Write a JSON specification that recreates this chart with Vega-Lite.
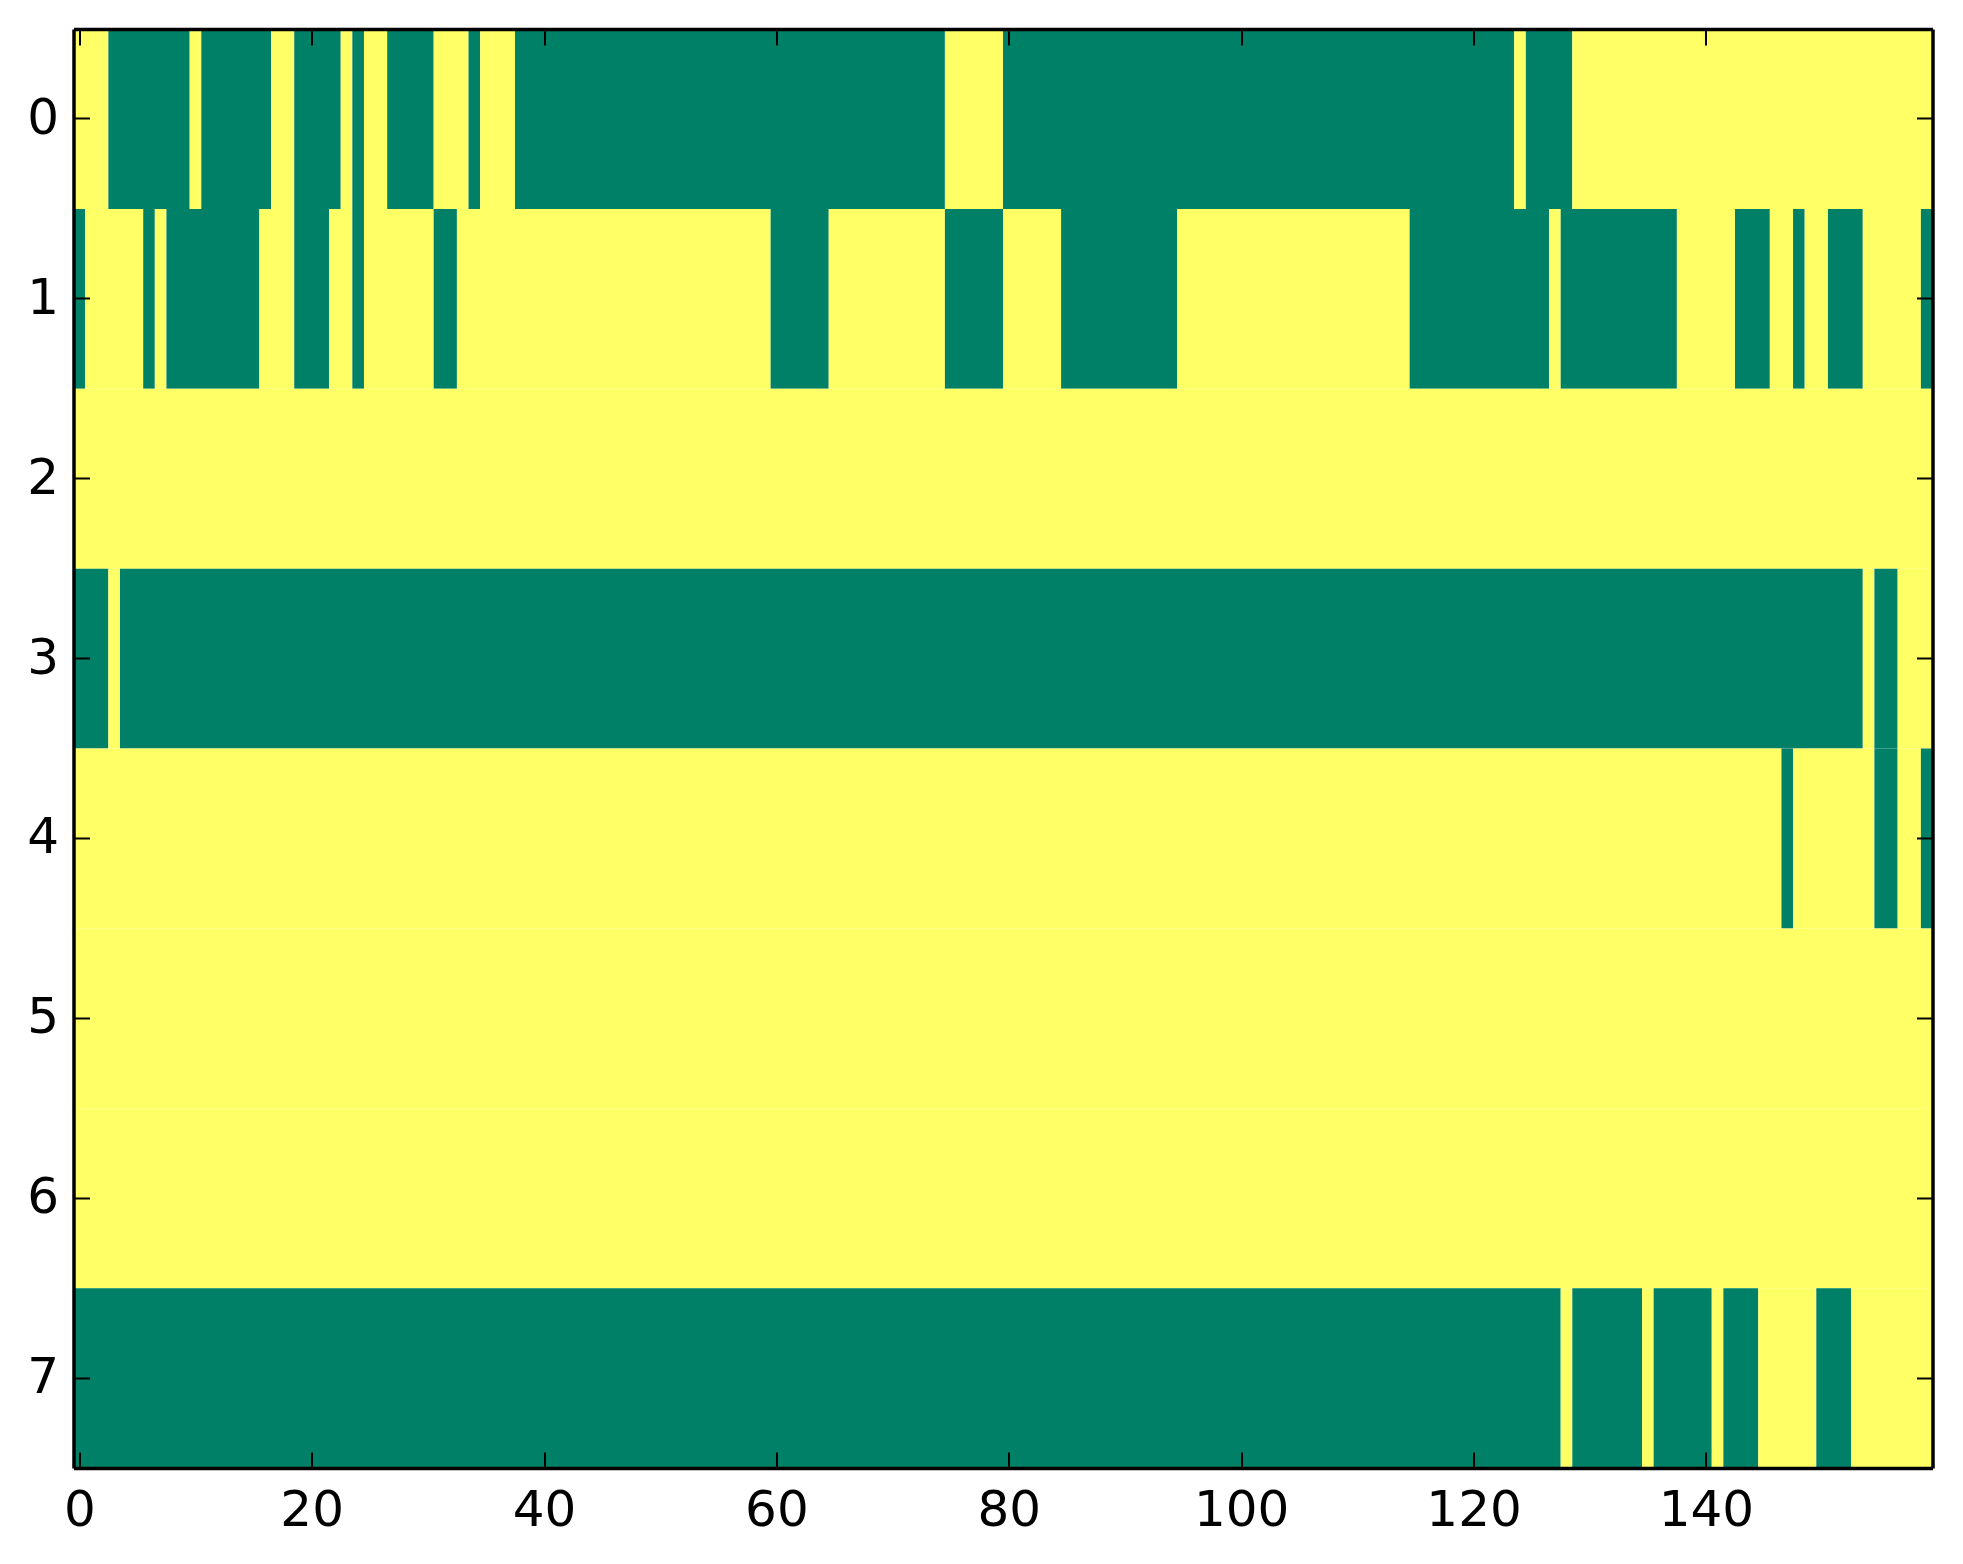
{
  "$schema": "https://vega.github.io/schema/vega-lite/v6.json",
  "autosize": "none",
  "padding": {"left": 73.5, "top": 29, "right": 30.5, "bottom": 96},
  "width": 1859,
  "height": 1439,
  "background": "white",
  "config": {
    "view": {"stroke": null},
    "axis": {
      "labelFont": "DejaVu Sans",
      "labelFontSize": 50,
      "labelColor": "black",
      "tickColor": "black",
      "tickWidth": 2,
      "tickSize": -16,
      "domainColor": "black",
      "domainWidth": 3.5,
      "grid": false,
      "title": null
    }
  },
  "data": {
    "values": [
      {"r": 0, "a": -0.5, "b": 2.5, "v": 1},
      {"r": 0, "a": 2.5, "b": 9.5, "v": 0},
      {"r": 0, "a": 9.5, "b": 10.5, "v": 1},
      {"r": 0, "a": 10.5, "b": 16.5, "v": 0},
      {"r": 0, "a": 16.5, "b": 18.5, "v": 1},
      {"r": 0, "a": 18.5, "b": 22.5, "v": 0},
      {"r": 0, "a": 22.5, "b": 23.5, "v": 1},
      {"r": 0, "a": 23.5, "b": 24.5, "v": 0},
      {"r": 0, "a": 24.5, "b": 26.5, "v": 1},
      {"r": 0, "a": 26.5, "b": 30.5, "v": 0},
      {"r": 0, "a": 30.5, "b": 33.5, "v": 1},
      {"r": 0, "a": 33.5, "b": 34.5, "v": 0},
      {"r": 0, "a": 34.5, "b": 37.5, "v": 1},
      {"r": 0, "a": 37.5, "b": 74.5, "v": 0},
      {"r": 0, "a": 74.5, "b": 79.5, "v": 1},
      {"r": 0, "a": 79.5, "b": 123.5, "v": 0},
      {"r": 0, "a": 123.5, "b": 124.5, "v": 1},
      {"r": 0, "a": 124.5, "b": 128.5, "v": 0},
      {"r": 0, "a": 128.5, "b": 159.5, "v": 1},

      {"r": 1, "a": -0.5, "b": 0.5, "v": 0},
      {"r": 1, "a": 0.5, "b": 5.5, "v": 1},
      {"r": 1, "a": 5.5, "b": 6.5, "v": 0},
      {"r": 1, "a": 6.5, "b": 7.5, "v": 1},
      {"r": 1, "a": 7.5, "b": 15.5, "v": 0},
      {"r": 1, "a": 15.5, "b": 18.5, "v": 1},
      {"r": 1, "a": 18.5, "b": 21.5, "v": 0},
      {"r": 1, "a": 21.5, "b": 23.5, "v": 1},
      {"r": 1, "a": 23.5, "b": 24.5, "v": 0},
      {"r": 1, "a": 24.5, "b": 30.5, "v": 1},
      {"r": 1, "a": 30.5, "b": 32.5, "v": 0},
      {"r": 1, "a": 32.5, "b": 59.5, "v": 1},
      {"r": 1, "a": 59.5, "b": 64.5, "v": 0},
      {"r": 1, "a": 64.5, "b": 74.5, "v": 1},
      {"r": 1, "a": 74.5, "b": 79.5, "v": 0},
      {"r": 1, "a": 79.5, "b": 84.5, "v": 1},
      {"r": 1, "a": 84.5, "b": 94.5, "v": 0},
      {"r": 1, "a": 94.5, "b": 114.5, "v": 1},
      {"r": 1, "a": 114.5, "b": 126.5, "v": 0},
      {"r": 1, "a": 126.5, "b": 127.5, "v": 1},
      {"r": 1, "a": 127.5, "b": 137.5, "v": 0},
      {"r": 1, "a": 137.5, "b": 142.5, "v": 1},
      {"r": 1, "a": 142.5, "b": 145.5, "v": 0},
      {"r": 1, "a": 145.5, "b": 147.5, "v": 1},
      {"r": 1, "a": 147.5, "b": 148.5, "v": 0},
      {"r": 1, "a": 148.5, "b": 150.5, "v": 1},
      {"r": 1, "a": 150.5, "b": 153.5, "v": 0},
      {"r": 1, "a": 153.5, "b": 158.5, "v": 1},
      {"r": 1, "a": 158.5, "b": 159.5, "v": 0},

      {"r": 2, "a": -0.5, "b": 159.5, "v": 1},

      {"r": 3, "a": -0.5, "b": 2.5, "v": 0},
      {"r": 3, "a": 2.5, "b": 3.5, "v": 1},
      {"r": 3, "a": 3.5, "b": 153.5, "v": 0},
      {"r": 3, "a": 153.5, "b": 154.5, "v": 1},
      {"r": 3, "a": 154.5, "b": 156.5, "v": 0},
      {"r": 3, "a": 156.5, "b": 159.5, "v": 1},

      {"r": 4, "a": -0.5, "b": 146.5, "v": 1},
      {"r": 4, "a": 146.5, "b": 147.5, "v": 0},
      {"r": 4, "a": 147.5, "b": 154.5, "v": 1},
      {"r": 4, "a": 154.5, "b": 156.5, "v": 0},
      {"r": 4, "a": 156.5, "b": 158.5, "v": 1},
      {"r": 4, "a": 158.5, "b": 159.5, "v": 0},

      {"r": 5, "a": -0.5, "b": 159.5, "v": 1},
      {"r": 6, "a": -0.5, "b": 159.5, "v": 1},

      {"r": 7, "a": -0.5, "b": 127.5, "v": 0},
      {"r": 7, "a": 127.5, "b": 128.5, "v": 1},
      {"r": 7, "a": 128.5, "b": 134.5, "v": 0},
      {"r": 7, "a": 134.5, "b": 135.5, "v": 1},
      {"r": 7, "a": 135.5, "b": 140.5, "v": 0},
      {"r": 7, "a": 140.5, "b": 141.5, "v": 1},
      {"r": 7, "a": 141.5, "b": 144.5, "v": 0},
      {"r": 7, "a": 144.5, "b": 149.5, "v": 1},
      {"r": 7, "a": 149.5, "b": 152.5, "v": 0},
      {"r": 7, "a": 152.5, "b": 159.5, "v": 1}
    ]
  },
  "layer": [
    {
      "mark": {"type": "rect", "strokeWidth": 0},
      "encoding": {
        "x": {
          "field": "a", "type": "quantitative",
          "scale": {"domain": [-0.5, 159.5], "nice": false, "zero": false},
          "axis": {"orient": "bottom", "values": [0, 20, 40, 60, 80, 100, 120, 140], "labelPadding": 33, "labelFlush": false, "zindex": 2}
        },
        "x2": {"field": "b"},
        "y": {
          "field": "r", "type": "ordinal",
          "scale": {"domain": [0, 1, 2, 3, 4, 5, 6, 7], "paddingInner": 0, "paddingOuter": 0},
          "axis": {"orient": "left", "labelAngle": 0, "labelPadding": 31, "zindex": 2}
        },
        "color": {
          "field": "v", "type": "nominal",
          "scale": {"domain": [0, 1], "range": ["#008066", "#ffff66"]},
          "legend": null
        }
      }
    },
    {
      "mark": {"type": "rect", "opacity": 0},
      "encoding": {
        "x": {
          "field": "a", "type": "quantitative",
          "axis": {"orient": "top", "values": [0, 20, 40, 60, 80, 100, 120, 140], "labels": false, "zindex": 2}
        },
        "x2": {"field": "b"},
        "y": {
          "field": "r", "type": "ordinal",
          "axis": {"orient": "right", "labels": false, "zindex": 2}
        }
      }
    }
  ],
  "resolve": {"axis": {"x": "independent", "y": "independent"}}
}
